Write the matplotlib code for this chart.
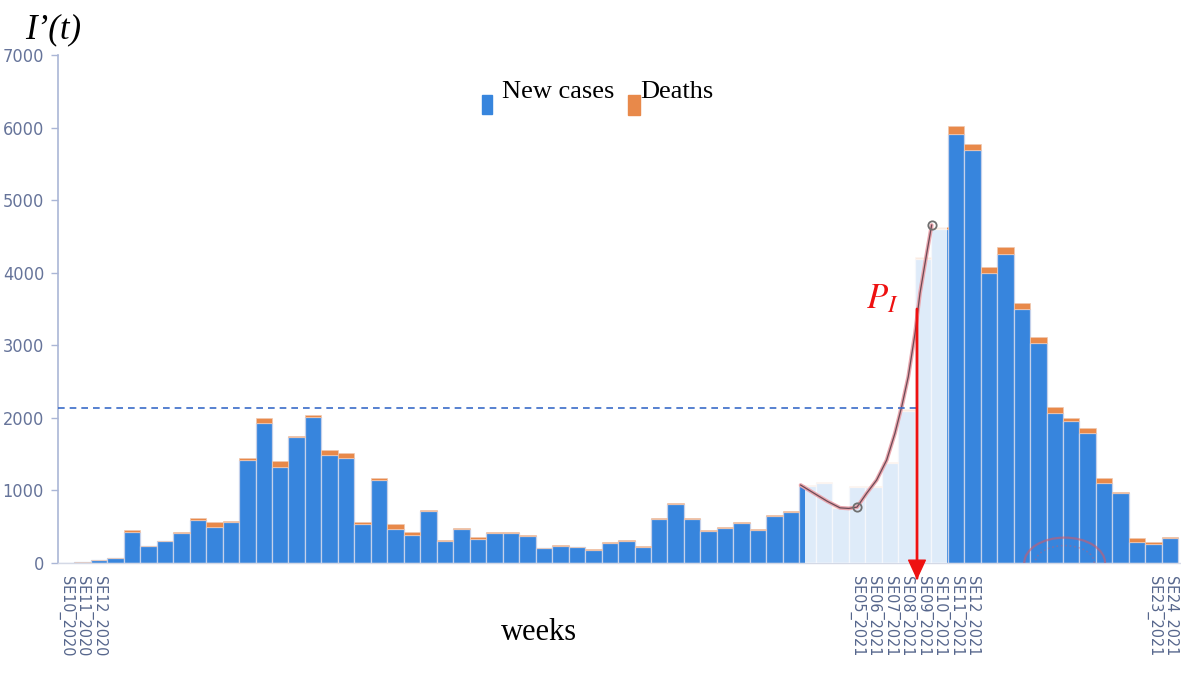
import matplotlib
matplotlib.use("Agg")
import matplotlib.pyplot as plt
from matplotlib.patches import Rectangle, Arc

plt.rcParams['mathtext.fontset'] = 'stix'

# week labels SE10_2020 .. SE53_2020, SE01_2021 .. SE24_2021
weeks = [f"SE{w:02d}_2020" for w in range(10, 54)] + [f"SE{w:02d}_2021" for w in range(1, 25)]
shown_weeks = ["SE10_2020", "SE11_2020", "SE12_2020",
               "SE05_2021", "SE06_2021", "SE07_2021", "SE08_2021",
               "SE09_2021", "SE10_2021", "SE11_2021", "SE12_2021",
               "SE23_2021", "SE24_2021"]

new_cases = [3, 8, 38, 72, 430, 230, 298, 410, 595, 500,
             565, 1420, 1925, 1327, 1735, 2005, 1487, 1450, 537, 1145,
             471, 392, 716, 308, 474, 326, 418, 411, 374, 202,
             236, 215, 180, 282, 305, 218, 611, 814, 611, 444,
             480, 546, 453, 641, 704, 1059, 1105, 755, 1050, 1045,
             1378, 2100, 4190, 4600, 5910, 5695, 3990, 4256, 3499, 3025,
             2061, 1953, 1795, 1106, 960, 294, 267, 340]
deaths = [0, 0, 2, 3, 20, 10, 12, 15, 30, 60,
          15, 25, 70, 78, 15, 30, 68, 70, 28, 30,
          64, 38, 14, 10, 14, 28, 14, 14, 12, 10,
          12, 10, 10, 12, 12, 10, 14, 16, 14, 12,
          12, 14, 12, 14, 14, 15, 15, 15, 15, 15,
          18, 20, 20, 25, 110, 75, 83, 92, 87, 92,
          92, 40, 69, 60, 15, 46, 23, 14]

# fitted growth curve over the shaded weeks
curve_x = [44.58, 45.4, 46.2, 46.97, 47.5, 48.0, 48.58, 49.19, 49.8,
           50.3, 50.71, 51.11, 51.52, 51.82, 52.23, 52.53]
curve_y = [1074, 960, 850, 760, 752, 770, 960, 1143, 1419,
           1786, 2153, 2566, 3164, 3715, 4266, 4656]
curve_marks_x = [48.0, 52.53]
curve_marks_y = [770, 4656]

shade_start, shade_end = 44.85, 53.45
threshold = 2135
p_i_week = 51.64
p_i_top = 3500

blue = '#3785dd'
orange = '#e8894a'
axis_col = '#aab6d6'
tick_col = '#66749a'

W, H = 1181, 673
fig = plt.figure(figsize=(W / 100, H / 100), dpi=100)
ax = fig.add_axes([58 / W, (H - 563) / H, (W - 58) / W, 508 / H])

x = list(range(len(weeks)))
ax.bar(x, new_cases, width=1.0, color=blue, edgecolor='#c4d0ea', linewidth=0.9, zorder=2)
ax.bar(x, deaths, bottom=new_cases, width=1.0, color=orange, edgecolor='#f0c8b0',
       linewidth=0.5, zorder=2)

# pale overlay on the weeks used for the fit
ax.add_patch(Rectangle((shade_start, 0), shade_end - shade_start, 7000,
                       facecolor='white', alpha=0.84, edgecolor='none', zorder=3))

ax.plot(curve_x, curve_y, color='#e9a6ae', lw=2.8, zorder=4, solid_capstyle='round')
ax.plot(curve_x, curve_y, color='#6b4a55', lw=0.9, zorder=4)
ax.plot(curve_marks_x, curve_marks_y, 'o', ms=6, mfc='none', mec='#707070', mew=1.3, zorder=5)

ax.plot([-0.485, p_i_week], [threshold, threshold], color='#3a6cc8', lw=1.2,
        dashes=(4, 3), zorder=4)

ax.annotate('', xy=(p_i_week, -210), xytext=(p_i_week, p_i_top),
            arrowprops=dict(arrowstyle='-', color='#ee1111', lw=2.0,
                            shrinkA=0, shrinkB=0),
            annotation_clip=False, zorder=6)
ax.annotate('', xy=(p_i_week, -210), xytext=(p_i_week, 300),
            arrowprops=dict(headwidth=12, headlength=13, width=0.01, color='#ee1111',
                            shrinkA=0, shrinkB=0),
            annotation_clip=False, zorder=6)
ax.text(49.55, 3650, r'$P_I$', color='#ee1111', fontsize=25, ha='center', va='center', zorder=6)

# faint stamp near the baseline
ax.add_patch(Arc((60.6, 0), 4.9, 700, theta1=0, theta2=180, color='#d05a6a',
                 lw=1.6, alpha=0.6, zorder=4))
ax.add_patch(Arc((60.6, 0), 3.6, 480, theta1=10, theta2=170, color='#d05a6a',
                 lw=1.2, alpha=0.4, ls=':', zorder=4))

ax.set_xlim(-0.485, 67.66)
ax.set_ylim(0, 7000)
ax.set_yticks(range(0, 7001, 1000))
ax.set_yticklabels([str(v) for v in range(0, 7001, 1000)],
                   fontfamily='DejaVu Sans', fontstretch='condensed', fontsize=13, color=tick_col)
ax.tick_params(axis='y', length=5, width=1, color=axis_col, pad=5)

ax.set_xticks([weeks.index(w) for w in shown_weeks])
ax.set_xticklabels(shown_weeks, rotation=-90, fontsize=11.5, color='#56668c',
                   fontfamily='DejaVu Sans', fontstretch='condensed')
ax.tick_params(axis='x', length=0, pad=9)

for side in ('top', 'right'):
    ax.spines[side].set_visible(False)
ax.spines['left'].set_color(axis_col)
ax.spines['left'].set_linewidth(1.2)
ax.spines['bottom'].set_color('#d4d9e6')
ax.spines['bottom'].set_linewidth(1.0)

# legend drawn by hand
fig.add_artist(Rectangle((482 / W, 1 - 114 / H), 10 / W, 19 / H, color=blue,
                         transform=fig.transFigure))
fig.add_artist(Rectangle((628 / W, 1 - 115 / H), 12 / W, 20 / H, color=orange,
                         transform=fig.transFigure))
fig.text(502 / W, 1 - 98 / H, 'New cases', fontfamily='Liberation Serif', fontsize=19,
         ha='left', va='baseline')
fig.text(640 / W, 1 - 98 / H, 'Deaths', fontfamily='Liberation Serif', fontsize=19,
         ha='left', va='baseline')

fig.text(25 / W, 1 - 38 / H, 'I’(t)', fontfamily='Liberation Serif', style='italic',
         fontsize=25, ha='left', va='baseline')
fig.text(539 / W, 1 - 640 / H, 'weeks', fontfamily='Liberation Serif', fontsize=22,
         ha='center', va='baseline')

fig.savefig('out.png', dpi=100)
